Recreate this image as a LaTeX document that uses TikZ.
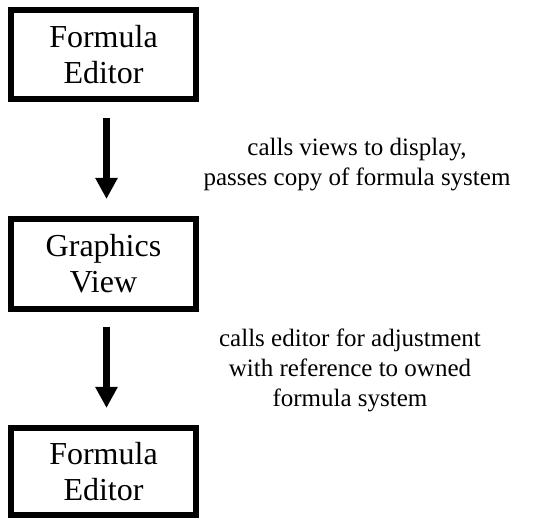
\documentclass[tikz,border=0pt]{standalone}
\usepackage{fontspec}
\setmainfont{Liberation Serif}
\usetikzlibrary{arrows.meta}
\begin{document}
\begin{tikzpicture}[x=1pt,y=1pt,
  box/.style={draw,line width=6pt,minimum width=185pt,inner sep=0pt,align=center,font=\fontsize{32}{36}\selectfont},
  lbl/.style={align=center,font=\fontsize{25}{30}\selectfont},
  arr/.style={line width=6.5pt,-{Triangle[length=21pt,width=21pt]}}]
\useasboundingbox (0,0) rectangle (543,519);
\node[box,minimum height=89pt] (fe1) at (103.5,464.5) {Formula\\Editor};
\node[box,minimum height=90pt] (gv) at (103.5,255) {Graphics\\View};
\node[box,minimum height=87pt] (fe2) at (103.5,47.5) {Formula\\Editor};
\coordinate (a1s) at (106.5,401);
\coordinate (a1e) at (106.5,320);
\coordinate (a2s) at (106.5,192);
\coordinate (a2e) at (106.5,111);
\draw[arr] (a1s) -- (a1e);
\draw[arr] (a2s) -- (a2e);
\node[lbl] (l1) at (357,354) {calls views to display,\\passes copy of formula system};
\node[lbl] (l2) at (350,149) {calls editor for adjustment\\with reference to owned\\formula system};
\end{tikzpicture}
\end{document}
